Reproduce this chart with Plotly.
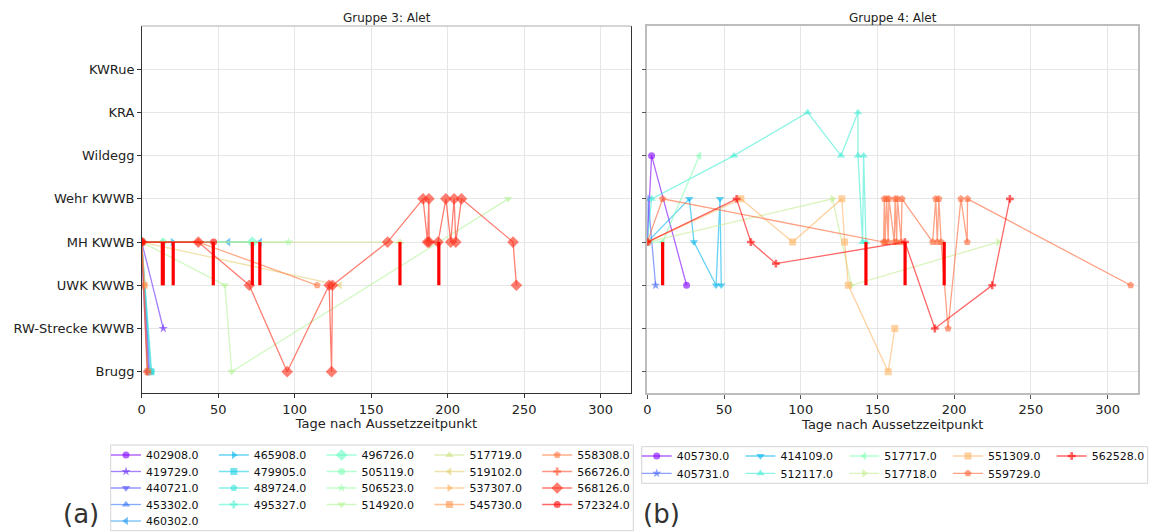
import math
import plotly.graph_objects as go

# ---------------- data ----------------
locations = ["Brugg", "RW-Strecke KWWB", "UWK KWWB", "MH KWWB",
             "Wehr KWWB", "Wildegg", "KRA", "KWRue"]
x_ticks = [0, 50, 100, 150, 200, 250, 300]

ids_g3 = ["402908.0", "419729.0", "440721.0", "453302.0", "460302.0",
          "465908.0", "479905.0", "489724.0", "495327.0", "496726.0",
          "505119.0", "506523.0", "514920.0", "517719.0", "519102.0",
          "537307.0", "545730.0", "558308.0", "566726.0", "568126.0",
          "572324.0"]
days_g3 = [
    [0, 4.5],
    [0, 14.1],
    [0, 1, 4],
    [0, 5.2],
    [0, 56.6, 77.3],
    [0, 20.2],
    [0, 6],
    [0, 6.5],
    [0, 13.7],
    [0, 72.3],
    [0, 14.2],
    [0, 96],
    [0, 54.4, 58.8, 239.5],
    [0, 168.8],
    [0, 129.5],
    [0, 2],
    [0, 1.5, 4],
    [0, 37, 114.7],
    [0, 3.5],
    [0, 37, 70.3, 95.1, 122.5, 124.1, 124.7, 160.7, 183.9, 186.8, 187.7,
     187.9, 193.7, 198.8, 202, 204.2, 205.3, 209, 242.7, 244.9],
    [0, 47],
]
levels_g3 = [
    [3, 0],
    [3, 1],
    [3, 2, 0],
    [3, 0],
    [3, 3, 3],
    [3, 3],
    [3, 0],
    [3, 0],
    [3, 3],
    [3, 3],
    [3, 3],
    [3, 3],
    [3, 2, 0, 4],
    [3, 3],
    [3, 2],
    [3, 2],
    [3, 2, 0],
    [3, 3, 2],
    [3, 0],
    [3, 3, 2, 0, 2, 0, 2, 3, 4, 3, 4, 3, 3, 4, 3, 4, 3, 4, 3, 2],
    [3, 3],
]
passage_days_g3 = [13.5, 14.1, 20.6, 46.8, 72.3, 77.2, 168.8, 194.2]

ids_g4 = ["405730.0", "405731.0", "414109.0", "512117.0", "517717.0",
          "517718.0", "551309.0", "559729.0", "562528.0"]
days_g4 = [
    [0, 2.8, 25.6],
    [0, 0.5, 5.4],
    [0, 27.4, 30.4, 44.8, 47.4, 48.2],
    [0, 2.8, 56.5, 104.5, 126.2, 137.3, 137.3, 140.3, 141, 142.5],
    [0, 10, 33.9],
    [0, 120.7, 133, 228.7],
    [0, 61, 94.7, 126.8, 128.6, 131, 157, 161.3],
    [0, 10, 154, 154.5, 155, 156, 157, 157.5, 161, 161.5, 162.5, 163, 165.5,
     166, 186, 188, 189, 190, 191.5, 196, 204.4, 208.5, 208.7, 315],
    [0, 58.2, 67.5, 83.8, 167.9, 187.4, 224.8, 236.3],
]
levels_g4 = [
    [3, 5, 2],
    [3, 4, 2],
    [3, 4, 3, 2, 4, 2],
    [3, 4, 5, 6, 5, 6, 5, 3, 5, 3],
    [3, 3, 5],
    [3, 4, 2, 3],
    [3, 4, 3, 4, 3, 2, 0, 1],
    [3, 4, 3, 4, 3, 4, 3, 4, 3, 4, 3, 4, 3, 4, 3, 4, 3, 4, 3, 1, 4, 3, 4, 2],
    [3, 4, 3, 2.5, 3, 1, 2, 4],
]
passage_days_g4 = [10, 142.5, 168, 193.5]

# ---------------- style ----------------
W, H = 1176, 532
FONT = "DejaVu Sans"
symbols = ["circle", "star", "triangle-down", "triangle-up", "triangle-left",
           "triangle-right", "square", "pentagon", "cross", "diamond"]
sizes = {"circle": 7, "star": 7, "triangle-down": 7.5, "triangle-up": 7.5,
         "triangle-left": 7.5, "triangle-right": 7.5, "square": 7,
         "pentagon": 7.5, "cross": 6.5, "diamond": 9}
ALPHA = 0.6


def rainbow(t, a):
    r = min(1.0, abs(2 * t - 0.5))
    g = math.sin(math.pi * t)
    b = math.cos(math.pi * t / 2)
    return "rgba(%d,%d,%d,%.2f)" % (round(r * 255), round(g * 255), round(b * 255), a)


def px_x(p):
    return p / W


def px_y(p):
    return 1 - p / H


fig = go.Figure()
legend_counter = [0]


def add_group(ids, days, levels, xa, ya):
    n = len(ids)
    for i, (sid, d, lv) in enumerate(zip(ids, days, levels)):
        t = i / (n - 1)
        sym = symbols[i % len(symbols)]
        legend_counter[0] += 1
        k = legend_counter[0]
        lname = "legend" if k == 1 else "legend%d" % k
        fig.add_trace(go.Scatter(
            x=d, y=lv, name=sid, mode="lines+markers", xaxis=xa, yaxis=ya,
            line=dict(color=rainbow(t, ALPHA), width=1.3),
            marker=dict(symbol=sym, size=sizes[sym], color=rainbow(t, ALPHA),
                        line=dict(width=0)),
            legend=lname,
        ))


def colwise_positions(n, ncol):
    # matplotlib-style column filling
    nrows = math.ceil(n / ncol)
    extra = n % ncol
    pos = []
    for c in range(ncol):
        count = nrows if (extra == 0 or c < extra) else nrows - 1
        for r in range(count):
            pos.append((c, r))
    return pos


def bars_xy(pdays):
    xs, ys = [], []
    for d in pdays:
        xs += [d, d, None]
        ys += [2, 3, None]
    return xs, ys


# group 3 (left)
add_group(ids_g3, days_g3, levels_g3, "x", "y")
bx, by = bars_xy(passage_days_g3)
fig.add_trace(go.Scatter(x=bx, y=by, mode="lines", xaxis="x", yaxis="y",
                         line=dict(color="red", width=3.2), showlegend=False,
                         hoverinfo="skip"))
# group 4 (right)
add_group(ids_g4, days_g4, levels_g4, "x2", "y2")
bx, by = bars_xy(passage_days_g4)
fig.add_trace(go.Scatter(x=bx, y=by, mode="lines", xaxis="x2", yaxis="y2",
                         line=dict(color="red", width=3.2), showlegend=False,
                         hoverinfo="skip"))

# legend placement
leg3_pos = colwise_positions(len(ids_g3), 5)
leg4_pos = colwise_positions(len(ids_g4), 5)
layout_legends = {}
for k in range(1, len(ids_g3) + len(ids_g4) + 1):
    lname = "legend" if k == 1 else "legend%d" % k
    if k <= len(ids_g3):
        c, r = leg3_pos[k - 1]
        tx = 146 + 107.8 * c
        ty = 455 + 16.5 * r
    else:
        c, r = leg4_pos[k - 1 - len(ids_g3)]
        tx = 676.7 + 103.75 * c
        ty = 456 + 17.3 * r
    layout_legends[lname] = dict(
        x=px_x(tx - 40), xanchor="left", y=px_y(ty), yanchor="middle",
        bgcolor="rgba(0,0,0,0)", borderwidth=0,
        font=dict(family=FONT, size=11, color="#111"),
        orientation="v", itemclick=False, itemdoubleclick=False,
    )

ydom = [px_y(393.3), px_y(26)]
common_x = dict(range=[0, 320], tickvals=x_ticks, showgrid=True,
                gridcolor="#e6e6e6", gridwidth=1, zeroline=False,
                ticks="outside", ticklen=3.5,
                tickfont=dict(family=FONT, size=13, color="#222"),
                title=dict(text="Tage nach Aussetzzeitpunkt",
                           font=dict(family=FONT, size=13, color="#222"),
                           standoff=2))
common_y = dict(range=[-0.5, 8.0], tickvals=list(range(len(locations))),
                showgrid=True, gridcolor="#e6e6e6", gridwidth=1,
                zeroline=False, ticks="outside", ticklen=3.5, domain=ydom)

fig.update_layout(
    template="none",
    width=W, height=H,
    margin=dict(l=0, r=0, t=0, b=0, autoexpand=False),
    paper_bgcolor="white", plot_bgcolor="white",
    font=dict(family=FONT, color="#222"),
    showlegend=True,
    xaxis=dict(common_x, domain=[px_x(141.7), px_x(631.3)], anchor="y",
               showline=True, linecolor="#333", linewidth=1.2, mirror=False,
               tickcolor="#333"),
    yaxis=dict(common_y, anchor="x", ticktext=locations,
               tickfont=dict(family=FONT, size=13, color="#222"),
               showline=True, linecolor="#333", linewidth=1.2, mirror=True,
               tickcolor="#333"),
    xaxis2=dict(common_x, domain=[px_x(647.3), px_x(1138.3)], anchor="y2",
                showline=True, linecolor="#bdbdbd", linewidth=1.5, mirror=True,
                tickcolor="#555"),
    yaxis2=dict(common_y, anchor="x2", showticklabels=False,
                showline=True, linecolor="#bdbdbd", linewidth=1.5, mirror=True,
                tickcolor="#555"),
    shapes=[
        dict(type="line", xref="x domain", yref="y domain", x0=0, x1=1,
             y0=1, y1=1, line=dict(color="#c8c8c8", width=1.5)),
        dict(type="rect", xref="paper", yref="paper",
             x0=px_x(110.7), x1=px_x(633.3), y0=px_y(530.7), y1=px_y(445),
             line=dict(color="#d4d4d4", width=1)),
        dict(type="rect", xref="paper", yref="paper",
             x0=px_x(641.7), x1=px_x(1147.7), y0=px_y(483.3), y1=px_y(446.7),
             line=dict(color="#d4d4d4", width=1)),
    ],
    annotations=[
        dict(text="Gruppe 3: Alet", x=px_x(386.5), y=px_y(18), xref="paper",
             yref="paper", showarrow=False, xanchor="center", yanchor="middle",
             font=dict(family=FONT, size=12, color="#222")),
        dict(text="Gruppe 4: Alet", x=px_x(892.8), y=px_y(18), xref="paper",
             yref="paper", showarrow=False, xanchor="center", yanchor="middle",
             font=dict(family=FONT, size=12, color="#222")),
        dict(text="(a)", x=px_x(80.5), y=px_y(514), xref="paper", yref="paper",
             showarrow=False, xanchor="center", yanchor="middle",
             font=dict(family=FONT, size=26, color="#333")),
        dict(text="(b)", x=px_x(661), y=px_y(514), xref="paper", yref="paper",
             showarrow=False, xanchor="center", yanchor="middle",
             font=dict(family=FONT, size=26, color="#333")),
    ],
    **layout_legends,
)

fig.write_html("out.html")
